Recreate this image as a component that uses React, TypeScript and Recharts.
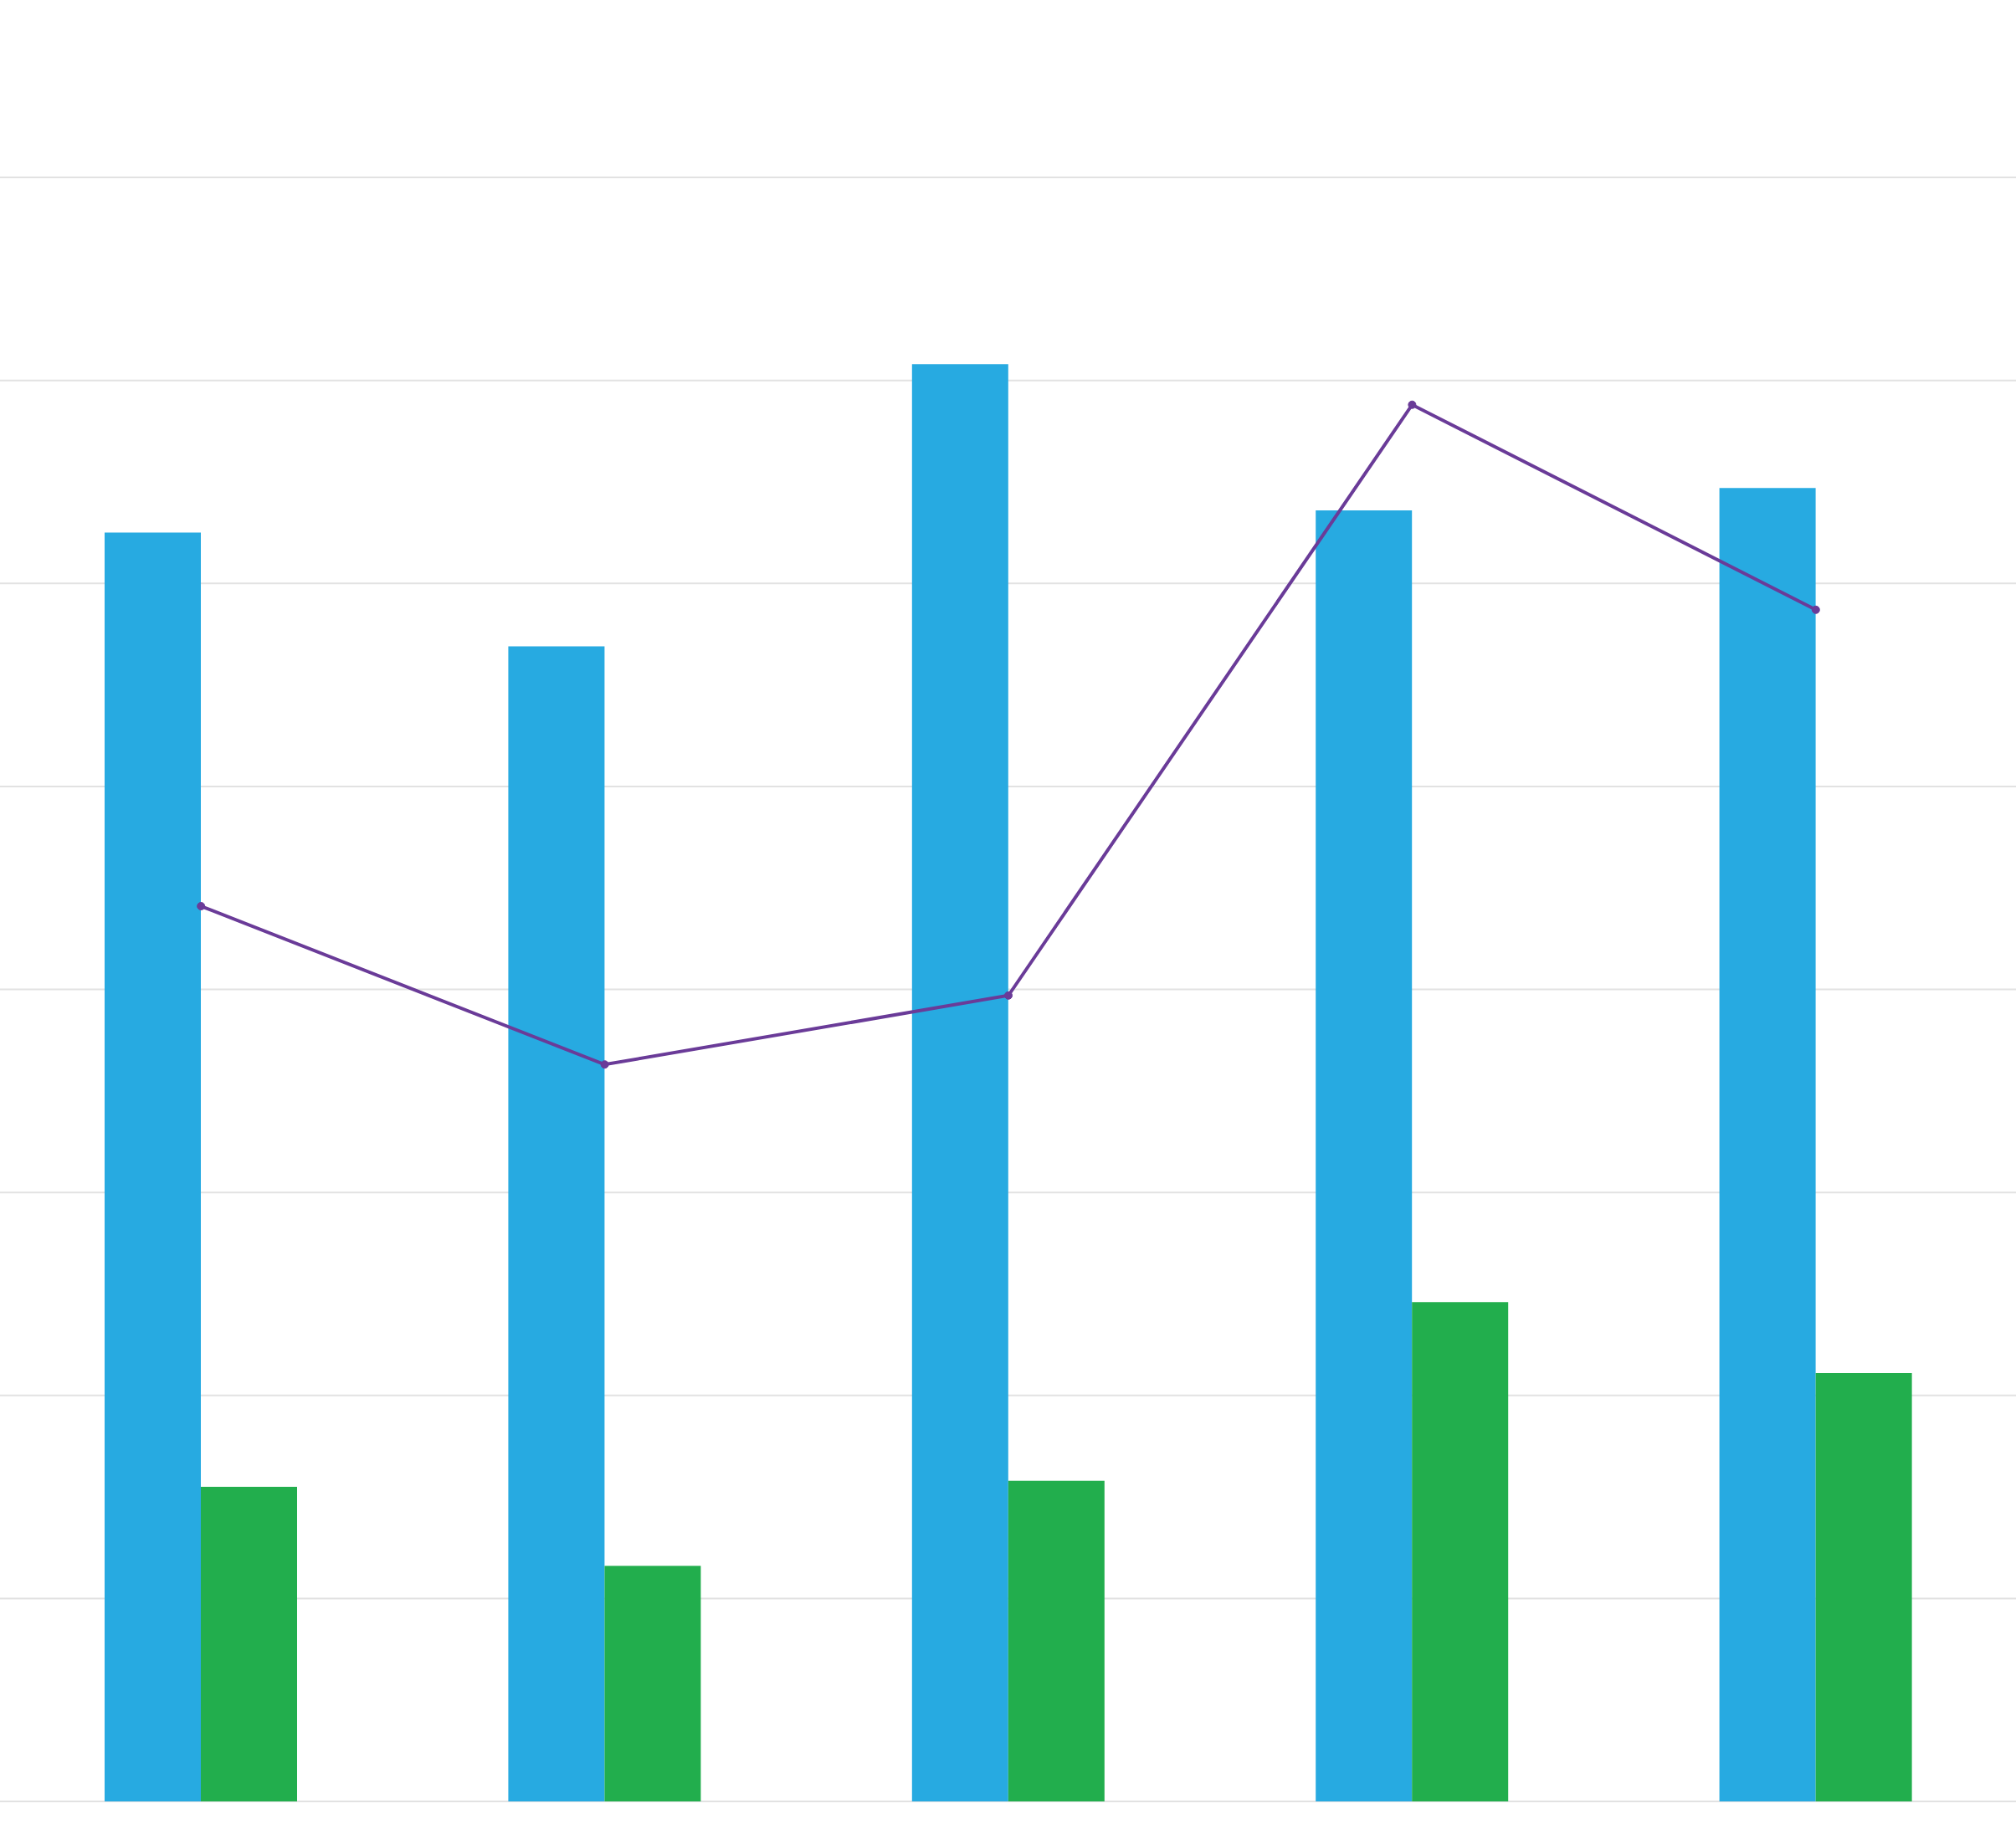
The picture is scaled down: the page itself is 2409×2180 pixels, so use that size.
import React from "react";
import { ComposedChart, Bar, Line, XAxis, YAxis, CartesianGrid } from "recharts";

const categories = ["1", "2", "3", "4", "5"];
const seriesBlue = [62.5, 56.9, 70.8, 63.6, 64.7];
const seriesGreen = [15.5, 11.6, 15.8, 24.6, 21.1];
const seriesLine = [44.1, 36.3, 39.7, 68.8, 58.7];
const yTicks = [0, 10, 20, 30, 40, 50, 60, 70, 80];

const data = categories.map((c, i) => ({
  name: c,
  blue: seriesBlue[i],
  green: seriesGreen[i],
  line: seriesLine[i],
}));

export default function App() {
  return (
    <div style={{ position: "absolute", left: 0, top: 0, background: "#ffffff" }}>
      <ComposedChart
        width={2411}
        height={2180}
        data={data}
        margin={{ top: 212, right: 0, left: -1, bottom: 27 }}
        barGap={0}
      >
        <CartesianGrid vertical={false} stroke="#e2e2e2" strokeWidth={2} />
        <XAxis dataKey="name" hide />
        <YAxis hide domain={[0, 80]} ticks={yTicks} />
        <Bar dataKey="blue" fill="#27aae1" barSize={115} isAnimationActive={false} />
        <Bar dataKey="green" fill="#22ae4d" barSize={115} isAnimationActive={false} />
        <Line
          type="linear"
          dataKey="line"
          stroke="#6a3b98"
          strokeWidth={4}
          dot={{ r: 4.5, fill: "#6a3b98", stroke: "#6a3b98", strokeWidth: 1 }}
          isAnimationActive={false}
        />
      </ComposedChart>
    </div>
  );
}
